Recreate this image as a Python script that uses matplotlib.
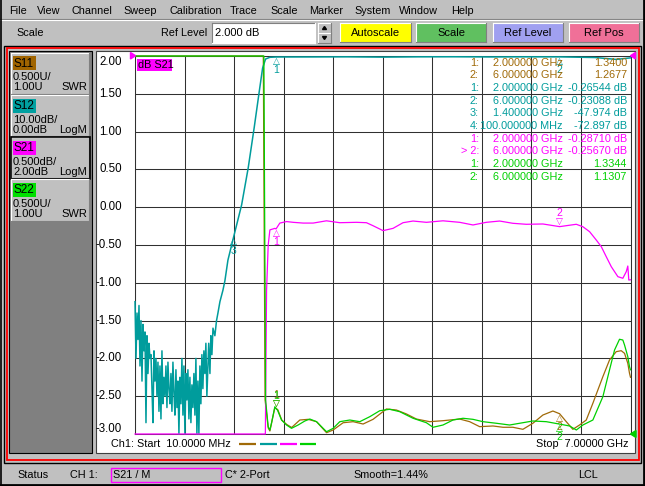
import numpy as np
import matplotlib
matplotlib.use('Agg')
import matplotlib.pyplot as plt
from matplotlib.patches import Rectangle, Polygon

plt.rcParams['font.family'] = ['Liberation Sans', 'DejaVu Sans']

# sweep
start_ghz = 0.01
stop_ghz = 7.0

# S12, LogM 10 dB/div, ref 0 dB. noise floor read one point per pixel column
s12_floor_f = np.linspace(0.01, 1.01, 72)
s12_floor_db = [-65, -80, -68, -75, -66, -82, -70, -86, -71, -78,
                -73, -97, -74, -84, -76, -80, -79, -88, -97, -78,
                -86, -80, -90, -81, -94, -82, -96, -78, -92, -85,
                -90, -82, -93, -81, -88, -92, -84, -94, -81, -89,
                -95, -83, -93, -86, -100, -85, -92, -80, -95, -82,
                -100, -84, -91, -83, -96, -85, -97, -87, -93, -84,
                -95, -80, -100, -86, -100, -82, -92, -79, -88, -78,
                -84, -76]
s12_f = [1.024, 1.05, 1.067, 1.08, 1.095, 1.11, 1.137, 1.16, 1.180, 1.208,
         1.25, 1.278, 1.321, 1.40, 1.514, 1.607, 1.691, 1.762, 1.810, 1.852,
         1.912, 2.0, 2.5, 3.0, 3.5, 4.0, 4.5, 5.0, 5.5, 6.0,
         6.5, 6.8, 6.95, 7.0]
s12_db = [-90, -76, -84, -74, -79, -72, -74, -70, -68, -65,
          -62, -59.5, -54, -47.97, -39.4, -29.6, -19.0, -9.5, -3.2, -0.8,
          -0.35, -0.265, -0.25, -0.22, -0.3, -0.22, -0.2, -0.25, -0.22, -0.231,
          -0.4, -0.9, -0.6, -0.5]

# S21, LogM 0.5 dB/div, ref 2 dB
s21_f = [0.01, 0.5, 1.0, 1.5, 1.8, 1.849, 1.866, 1.889, 1.913, 1.983,
         2.0, 2.053, 2.148, 2.241, 2.382, 2.523, 2.711, 2.898, 3.134, 3.275,
         3.368, 3.509, 3.650, 3.791, 3.932, 4.121, 4.355, 4.590, 4.778, 4.966,
         5.154, 5.341, 5.529, 5.764, 6.0, 6.235, 6.328, 6.423, 6.517, 6.588,
         6.658, 6.729, 6.822, 6.892, 6.940, 6.962, 6.976, 7.0]
s21_db = [-72, -80, -78, -48, -20, -3.0, -1.10, -0.50, -0.30, -0.28,
          -0.287, -0.21, -0.19, -0.20, -0.21, -0.21, -0.18, -0.205, -0.20, -0.205,
          -0.245, -0.31, -0.28, -0.205, -0.183, -0.20, -0.18, -0.20, -0.235, -0.20,
          -0.183, -0.213, -0.226, -0.222, -0.257, -0.226, -0.258, -0.324, -0.434, -0.522,
          -0.655, -0.787, -0.919, -0.94, -0.853, -0.778, -0.963, -0.96]

# S11, SWR 0.5 U/div, ref 1.00
s11_f = [0.01, 1.0, 1.82, 1.845, 1.889, 1.913, 1.94, 1.983, 2.0, 2.025,
         2.08, 2.15, 2.22, 2.335, 2.452, 2.571, 2.712, 2.805, 2.946, 3.087,
         3.228, 3.368, 3.557, 3.698, 3.839, 3.980, 4.167, 4.355, 4.590, 4.731,
         4.872, 5.060, 5.201, 5.341, 5.482, 5.623, 5.764, 5.905, 6.0, 6.094,
         6.187, 6.281, 6.376, 6.469, 6.610, 6.704, 6.798, 6.869, 6.916, 6.962,
         6.986, 7.0]
s11_swr = [50, 50, 9, 1.45, 1.08, 1.04, 1.16, 1.35, 1.34, 1.32,
           1.185, 1.126, 1.086, 1.185, 1.194, 1.163, 1.017, 1.053, 1.149, 1.163,
           1.132, 1.194, 1.331, 1.317, 1.265, 1.198, 1.163, 1.176, 1.198, 1.163,
           1.097, 1.106, 1.089, 1.089, 1.062, 1.142, 1.251, 1.304, 1.268, 1.163,
           1.062, 1.119, 1.185, 1.406, 1.758, 1.979, 2.089, 2.102, 2.067, 1.935,
           1.803, 1.75]

# S22, SWR 0.5 U/div, ref 1.00
s22_f = [0.01, 1.0, 1.828, 1.852, 1.889, 1.913, 1.936, 1.983, 2.0, 2.02,
         2.077, 2.148, 2.218, 2.311, 2.406, 2.476, 2.571, 2.712, 2.805, 2.899,
         3.040, 3.181, 3.322, 3.463, 3.604, 3.745, 3.932, 4.121, 4.214, 4.355,
         4.496, 4.637, 4.778, 4.919, 5.107, 5.295, 5.436, 5.623, 5.812, 6.0,
         6.141, 6.236, 6.328, 6.469, 6.610, 6.704, 6.775, 6.845, 6.892, 6.916,
         6.962, 6.986, 7.0]
s22_swr = [50, 50, 9, 1.45, 1.097, 1.053, 1.146, 1.361, 1.334, 1.317,
           1.185, 1.119, 1.075, 1.119, 1.172, 1.198, 1.163, 1.030, 1.075, 1.163,
           1.185, 1.163, 1.229, 1.308, 1.327, 1.295, 1.208, 1.149, 1.089, 1.119,
           1.185, 1.208, 1.194, 1.163, 1.142, 1.119, 1.142, 1.172, 1.163, 1.131,
           1.106, 1.053, 1.119, 1.185, 1.493, 1.847, 2.111, 2.253, 2.243, 2.177,
           2.023, 1.890, 1.85]

# markers
s11_mk_f = [2.0, 6.0]
s11_mk = [1.3400, 1.2677]
s12_mk_f = [2.0, 6.0, 1.4, 0.1]
s12_mk = [-0.26544, -0.23088, -47.974, -72.897]
s21_mk_f = [2.0, 6.0]
s21_mk = [-0.28710, -0.25670]
s22_mk_f = [2.0, 6.0]
s22_mk = [1.3344, 1.1307]

trace_names = ['S11', 'S12', 'S21', 'S22']
trace_div = ['0.500U/', '10.00dB/', '0.500dB/', '0.500U/']
trace_ref = ['1.00U', '0.00dB', '2.00dB', '1.00U']
trace_fmt = ['SWR', 'LogM', 'LogM', 'SWR']
y_labels = [2.0, 1.5, 1.0, 0.5, 0.0, -0.5, -1.0, -1.5, -2.0, -2.5, -3.0]

menu_items = ['File', 'View', 'Channel', 'Sweep', 'Calibration', 'Trace',
              'Scale', 'Marker', 'System', 'Window', 'Help']
menu_x = [9, 37, 72, 123, 169, 230, 270, 309, 354, 399, 451]

BROWN = '#a06a08'
TEAL = '#009c9c'
MAG = '#ff00ff'
GREEN = '#00d000'
label_bg = ['#a06400', '#00a0a0', '#ff00ff', '#00e000']
trace_col = [BROWN, TEAL, MAG, GREEN]
GRAY = '#c0c0c0'
DARK = '#808080'

fig = plt.figure(figsize=(6.45, 4.86), dpi=100)
fig.patch.set_facecolor(GRAY)
bg = fig.add_axes([0, 0, 1, 1])
bg.set_xlim(0, 645)
bg.set_ylim(486, 0)
bg.axis('off')


def rect(a, x0, y0, x1, y1, fc='none', ec='none', lw=1.0, z=1):
    a.add_patch(Rectangle((x0, y0), x1 - x0, y1 - y0, facecolor=fc,
                          edgecolor=ec, linewidth=lw, zorder=z))


def bevel(a, x0, y0, x1, y1, raised=True, z=2):
    light, dark = ('white', DARK) if raised else (DARK, 'white')
    a.plot([x0, x1], [y0, y0], color=light, lw=0.8, zorder=z)
    a.plot([x0, x0], [y0, y1], color=light, lw=0.8, zorder=z)
    a.plot([x0, x1], [y1, y1], color=dark, lw=0.8, zorder=z)
    a.plot([x1, x1], [y0, y1], color=dark, lw=0.8, zorder=z)


# menu bar
for name, x in zip(menu_items, menu_x):
    bg.text(x, 10.5, name, fontsize=7.8, va='center', ha='left')
bg.plot([0, 645], [19.5, 19.5], color=DARK, lw=0.8)
bg.plot([0, 645], [20.5, 20.5], color='white', lw=0.8)

# tool bar
bg.text(16, 33, 'Scale', fontsize=7.8, va='center')
bg.text(207, 32.5, 'Ref Level', fontsize=7.8, va='center', ha='right')
rect(bg, 212, 23, 315, 43, fc='white')
bevel(bg, 212, 23, 315, 43, raised=False)
bg.text(215, 33, '2.000 dB', fontsize=8, va='center')
for y0 in (23, 33):
    rect(bg, 318, y0, 331, y0 + 10, fc=GRAY)
    bevel(bg, 318, y0, 331, y0 + 10)
bg.add_patch(Polygon([[322.5, 29.5], [326.5, 29.5], [324.5, 26.5]], color='black'))
bg.add_patch(Polygon([[322.5, 36.5], [326.5, 36.5], [324.5, 39.5]], color='black'))
buttons = [('Autoscale', 340, 411, '#ffff00'), ('Scale', 416, 486, '#60c060'),
           ('Ref Level', 493, 563, '#a0a0f0'), ('Ref Pos', 569, 639, '#f07098')]
for lab, x0, x1, c in buttons:
    rect(bg, x0, 23, x1, 42, fc=c)
    bevel(bg, x0, 23, x1, 42)
    bg.text((x0 + x1) / 2, 33, lab, fontsize=8, ha='center', va='center')

# main frame
rect(bg, 4, 46, 641, 463, ec='black', lw=1.0)
rect(bg, 6.5, 48.5, 638.5, 460, ec='red', lw=1.3)
rect(bg, 8.5, 51, 91.5, 453, fc=DARK, ec='black', lw=0.8)
rect(bg, 95.5, 51, 634.5, 453, fc='white', ec='#404040', lw=0.8)

# trace boxes
for i, name in enumerate(trace_names):
    top = 53.5 + 42 * i
    rect(bg, 11, top, 89, top + 41, fc=GRAY, z=2)
    bevel(bg, 11, top, 89, top + 41, z=3)
    if name == 'S21':
        rect(bg, 10.5, top - 0.5, 89.5, top + 41.5, ec='black', lw=1.2, z=3)
    rect(bg, 12.5, top + 3, 36, top + 17, fc=label_bg[i], z=3)
    bg.text(14, top + 10.5, name, fontsize=8.5, va='center', zorder=4)
    bg.text(13, top + 24, trace_div[i], fontsize=8, va='center', zorder=4)
    bg.text(13, top + 34, trace_ref[i], fontsize=8, va='center', zorder=4)
    bg.text(87, top + 34, trace_fmt[i], fontsize=8, va='center', ha='right', zorder=4)

# status bar
bg.text(17, 475, 'Status', fontsize=7.8, va='center')
bg.text(70, 475, 'CH 1:', fontsize=7.8, va='center')
rect(bg, 111, 467.5, 221, 482, ec=MAG, lw=1.0)
bg.text(113, 475, 'S21 / M', fontsize=7.8, va='center')
bg.text(225, 475, 'C* 2-Port', fontsize=7.8, va='center')
bg.text(353, 475, 'Smooth=1.44%', fontsize=7.8, va='center')
bg.text(578, 475, 'LCL', fontsize=7.8, va='center')
bg.plot([0, 645], [485, 485], color='black', lw=2)
bg.plot([0.5, 0.5], [0, 486], color='black', lw=1.2)
bg.plot([644, 644], [0, 486], color='black', lw=2)

# chart
L, R, T, B = 135, 630.5, 56, 434
ax = fig.add_axes([L / 645, 1 - B / 486, (R - L) / 645, (B - T) / 486])
ax.set_facecolor('white')
ax.set_xlim(start_ghz, stop_ghz)
ax.set_ylim(-3, 2)
ax.set_xticks(np.linspace(start_ghz, stop_ghz, 11))
ax.set_yticks(y_labels)
ax.tick_params(length=0, labelleft=False, labelbottom=False)
ax.grid(True, color='#303030', lw=0.75)
for s in ax.spines.values():
    s.set_color('#303030')
    s.set_linewidth(0.75)
for v in y_labels:
    ax.text(-0.026, np.clip(v, -2.94, 1.925), f'{v:.2f}', transform=ax.get_yaxis_transform(),
            ha='right', va='center', fontsize=8.3, clip_on=False)


def trace_axes(lo, hi):
    a = ax.twinx()
    a.set_ylim(lo, hi)
    a.axis('off')
    return a


def marker(a, f, v, num, color, above):
    sgn = 1 if above else -1
    tri = '\u25bd' if above else '\u25b3'
    a.annotate(tri, (f, v), xytext=(0, sgn * 3.2), textcoords='offset points',
               ha='center', va='center', fontsize=6.5, color=color,
               family='DejaVu Sans', annotation_clip=False)
    a.annotate(str(num), (f, v), xytext=(0, sgn * 9.5), textcoords='offset points',
               ha='center', va='center', fontsize=7.5, color=color, annotation_clip=False)


ax11 = trace_axes(1.0, 6.0)
ax11.plot(s11_f, np.clip(s11_swr, 1.0, 6.0), color=BROWN, lw=0.9, clip_on=False)
for k, (f, v) in enumerate(zip(s11_mk_f, s11_mk)):
    marker(ax11, f, v, k + 1, BROWN, above=(k == 0))

ax12 = trace_axes(-100, 0)
f12 = np.concatenate([s12_floor_f, s12_f])
d12 = np.concatenate([s12_floor_db, s12_db])
ax12.plot(f12, np.clip(d12, -100, 0), color=TEAL, lw=1.1, clip_on=False)
for k, (f, v) in enumerate(zip(s12_mk_f, s12_mk)):
    marker(ax12, f, v, k + 1, TEAL, above=False)

ax21 = trace_axes(-3, 2)
ax21.plot(s21_f, np.clip(s21_db, -3, 2), color=MAG, lw=0.9, clip_on=False)
for k, (f, v) in enumerate(zip(s21_mk_f, s21_mk)):
    marker(ax21, f, v, k + 1, MAG, above=(k == 1))

ax22 = trace_axes(1.0, 6.0)
ax22.plot(s22_f, np.clip(s22_swr, 1.0, 6.0), color=GREEN, lw=0.9, clip_on=False)
for k, (f, v) in enumerate(zip(s22_mk_f, s22_mk)):
    marker(ax22, f, v, k + 1, GREEN, above=(k == 0))

# overlay in pixel coords
ov = fig.add_axes([0, 0, 1, 1])
ov.set_xlim(0, 645)
ov.set_ylim(486, 0)
ov.axis('off')
rect(ov, 136.5, 59, 172, 71, fc=MAG)
ov.text(138, 65, 'dB S21', fontsize=7.8, va='center')
ov.add_patch(Polygon([[130.5, 52.5], [130.5, 59], [135.5, 55.7]], color=MAG))
ov.add_patch(Polygon([[635.5, 52.5], [635.5, 59], [630.5, 55.7]], color=MAG))
ov.add_patch(Polygon([[636, 430.5], [636, 437.5], [630.5, 434]], color=GREEN))


def fmt_freq(f):
    if f < 1:
        return f'{f * 1000:.6f} MHz'
    return f'{f:.6f} GHz'


rows = []
for fs, vs, c, unit in [(s11_mk_f, s11_mk, BROWN, ''), (s12_mk_f, s12_mk, TEAL, ' dB'),
                        (s21_mk_f, s21_mk, MAG, ' dB'), (s22_mk_f, s22_mk, GREEN, '')]:
    for k, (f, v) in enumerate(zip(fs, vs)):
        idx = f'{k + 1}:'
        if c == MAG and k == 1:
            idx = '> ' + idx
        rows.append((idx, fmt_freq(f), f'{v:#.5g}' + unit, c))
for i, (idx, fr, val, c) in enumerate(rows):
    y = 62.5 + 12.7 * i
    ov.text(479, y, idx, fontsize=7.8, color=c, ha='right', va='center')
    ov.text(563, y, fr, fontsize=7.8, color=c, ha='right', va='center')
    ov.text(627, y, val, fontsize=7.8, color=c, ha='right', va='center')

# bottom annotation line
ov.text(111, 444, f'Ch1: Start  {start_ghz * 1000:.4f} MHz', fontsize=7.8, va='center')
ov.text(629, 444, f'Stop  {stop_ghz:.5f} GHz', fontsize=7.8, va='center', ha='right')
for (x0, x1), c in zip([(239, 256), (260, 277), (280, 297), (300, 316)], trace_col):
    ov.plot([x0, x1], [443.5, 443.5], color=c, lw=1.6, solid_capstyle='butt')

fig.savefig('out.png', dpi=100, facecolor=fig.get_facecolor())
